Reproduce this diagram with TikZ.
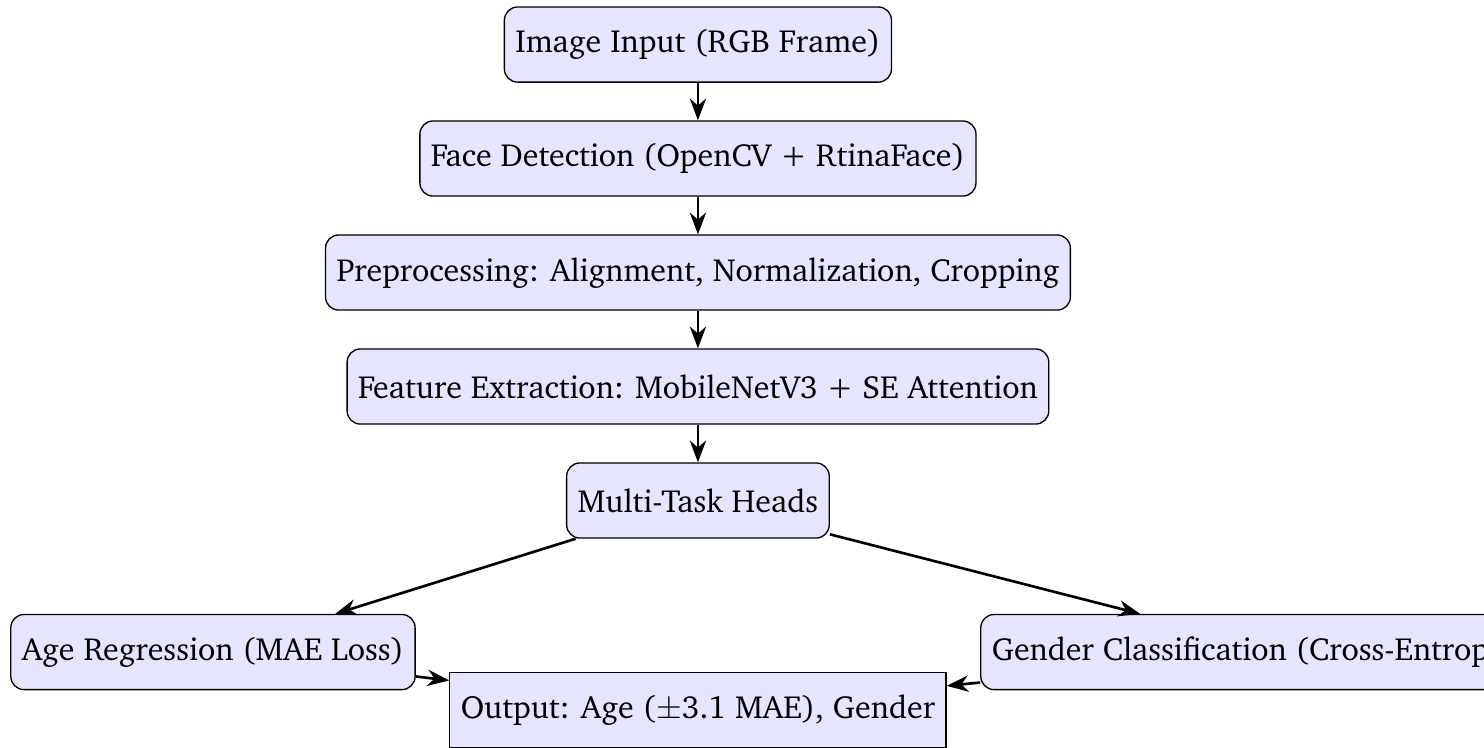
\documentclass[tikz,border=0pt]{standalone}
\usepackage[T1]{fontenc}
\usepackage{charter}
\usetikzlibrary{positioning,arrows.meta}

\begin{document}
\begin{tikzpicture}[
    node distance=0.4cm,
    every node/.style={font=\fontsize{9.7}{11.6}\selectfont},
    stage/.style={draw, rounded corners, fill=blue!10, minimum height=0.8cm},
    result/.style={draw, fill=blue!10, minimum height=0.8cm},
    flow/.style={-{Stealth}, thick}
]
    \useasboundingbox (-211.5pt,13.5pt) rectangle (238.2pt,-212.9pt);

    % Pipeline stages
    \node[stage] (input) at (0,0) {Image Input (RGB Frame)};
    \node[stage, below=of input] (detect) {Face Detection (OpenCV + RtinaFace)};
    \node[stage, below=of detect] (prep) {Preprocessing: Alignment, Normalization, Cropping};
    \node[stage, below=of prep] (feat) {Feature Extraction: MobileNetV3 + SE Attention};
    \node[stage, below=of feat] (heads) {Multi-Task Heads};

    % Task heads and output
    \node[stage, below left=0.8cm and 1.6cm of heads] (age) {Age Regression (MAE Loss)};
    \node[stage, below right=0.8cm and 1.6cm of heads] (gender) {Gender Classification (Cross-Entropy Loss)};
    \node[result, below=1.42cm of heads] (output) {Output: Age ($\pm$3.1 MAE), Gender};

    \draw[flow] (input) -- (detect);
    \draw[flow] (detect) -- (prep);
    \draw[flow] (prep) -- (feat);
    \draw[flow] (feat) -- (heads);
    \draw[flow] (heads) -- (age);
    \draw[flow] (heads) -- (gender);
    \draw[flow] (age) -- (output);
    \draw[flow] (gender) -- (output);
\end{tikzpicture}
\end{document}
